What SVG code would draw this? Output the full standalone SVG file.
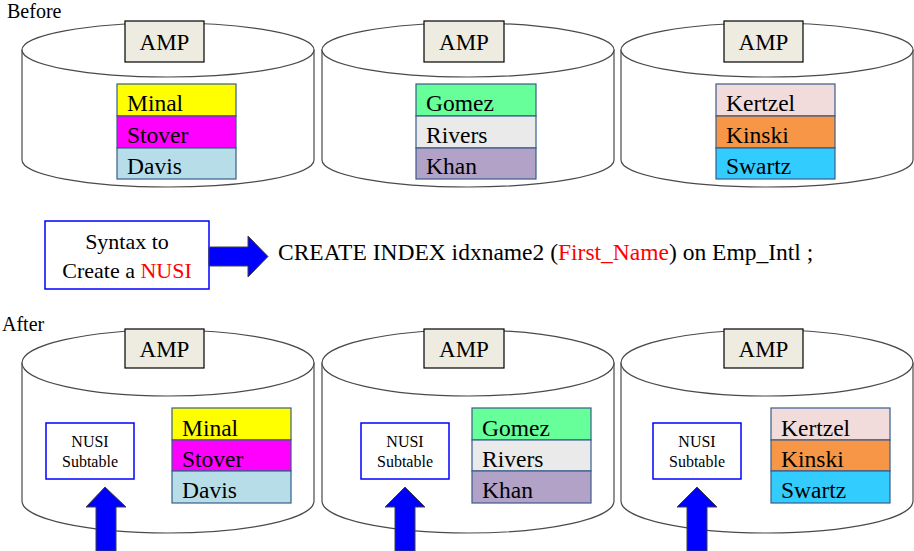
<svg xmlns="http://www.w3.org/2000/svg" width="914" height="551" viewBox="0 0 914 551">
<style>
text{font-family:"Liberation Serif","Times New Roman",serif;fill:#000}
.cyl{fill:#fff;stroke:#4a4a4a;stroke-width:1.2}
.amp{fill:#EEECE1;stroke:#000;stroke-width:1.2}
.ampt{font-size:23px;text-anchor:middle}
.cell{stroke:#385D8A;stroke-width:1.2}
.nm{font-size:23.5px}
.nusi{fill:#fff;stroke:#0000FF;stroke-width:1.5}
.nusit{font-size:16px;text-anchor:middle}
.barrow{fill:#0000FF;stroke:#404040;stroke-width:1}
.lbl{font-size:20px}
</style>
<text class="lbl" x="7" y="18">Before</text>
<text class="lbl" x="2" y="331">After</text>

<g id="amp1-before">
<path class="cyl" d="M22,50 L22,160 A146,27 0 0 0 314,160 L314,50 Z"/>
<ellipse class="cyl" cx="168" cy="50" rx="146" ry="27"/>
<rect class="amp" x="125" y="21" width="79" height="41"/>
<text class="ampt" x="164.5" y="49.5">AMP</text>
<rect class="cell" x="117" y="84" width="119" height="32" fill="#FFFF00"/>
<rect class="cell" x="117" y="116" width="119" height="32" fill="#FF00FF"/>
<rect class="cell" x="117" y="148" width="119" height="31" fill="#B7DEE8"/>
<text class="nm" x="127" y="111">Minal</text>
<text class="nm" x="127" y="143">Stover</text>
<text class="nm" x="127" y="174">Davis</text>
</g>
<g id="amp2-before">
<path class="cyl" d="M322,50 L322,160 A146,27 0 0 0 614,160 L614,50 Z"/>
<ellipse class="cyl" cx="468" cy="50" rx="146" ry="27"/>
<rect class="amp" x="424" y="21" width="80" height="41"/>
<text class="ampt" x="464" y="49.5">AMP</text>
<rect class="cell" x="416" y="84" width="120" height="32" fill="#66FF99"/>
<rect class="cell" x="416" y="116" width="120" height="32" fill="#EAEAEA"/>
<rect class="cell" x="416" y="148" width="120" height="31" fill="#B3A2C7"/>
<text class="nm" x="426" y="111">Gomez</text>
<text class="nm" x="426" y="143">Rivers</text>
<text class="nm" x="426" y="174">Khan</text>
</g>
<g id="amp3-before">
<path class="cyl" d="M621,50 L621,160 A146,27 0 0 0 913,160 L913,50 Z"/>
<ellipse class="cyl" cx="767" cy="50" rx="146" ry="27"/>
<rect class="amp" x="724" y="21" width="79" height="41"/>
<text class="ampt" x="763.5" y="49.5">AMP</text>
<rect class="cell" x="716" y="84" width="119" height="32" fill="#F2DCDB"/>
<rect class="cell" x="716" y="116" width="119" height="32" fill="#F79646"/>
<rect class="cell" x="716" y="148" width="119" height="31" fill="#33CCFF"/>
<text class="nm" x="726" y="111">Kertzel</text>
<text class="nm" x="726" y="143">Kinski</text>
<text class="nm" x="726" y="174">Swartz</text>
</g>

<g id="syntax">
<rect x="45" y="221" width="164" height="68" fill="#fff" stroke="#0000FF" stroke-width="1.5"/>
<text x="127" y="249" font-size="22" text-anchor="middle">Syntax to</text>
<text x="127" y="278" font-size="22" text-anchor="middle">Create a <tspan fill="#FF0000">NUSI</tspan></text>
</g>
<g id="sql">
<text x="278" y="260" font-size="23.5">CREATE INDEX idxname2 (<tspan fill="#FF0000">First_Name</tspan>) on Emp_Intl ;</text>
</g>

<g id="amp1-after">
<path class="cyl" d="M22,363 L22,501 A146,32 0 0 0 314,501 L314,363 Z"/>
<ellipse class="cyl" cx="168" cy="363" rx="146" ry="33"/>
<rect class="amp" x="125" y="329" width="79" height="39"/>
<text class="ampt" x="164.5" y="357">AMP</text>
<rect class="nusi" x="46" y="423" width="88" height="56"/>
<text class="nusit" x="90" y="447">NUSI</text>
<text class="nusit" x="90" y="467">Subtable</text>
<rect class="cell" x="172" y="408" width="119" height="32" fill="#FFFF00"/>
<rect class="cell" x="172" y="440" width="119" height="31" fill="#FF00FF"/>
<rect class="cell" x="172" y="471" width="119" height="32" fill="#B7DEE8"/>
<text class="nm" x="182" y="436">Minal</text>
<text class="nm" x="182" y="467">Stover</text>
<text class="nm" x="182" y="498">Davis</text>
</g>
<g id="amp2-after">
<path class="cyl" d="M322,363 L322,501 A146,32 0 0 0 614,501 L614,363 Z"/>
<ellipse class="cyl" cx="468" cy="363" rx="146" ry="33"/>
<rect class="amp" x="424" y="329" width="80" height="39"/>
<text class="ampt" x="464" y="357">AMP</text>
<rect class="nusi" x="361" y="423" width="88" height="56"/>
<text class="nusit" x="405" y="447">NUSI</text>
<text class="nusit" x="405" y="467">Subtable</text>
<rect class="cell" x="472" y="408" width="119" height="32" fill="#66FF99"/>
<rect class="cell" x="472" y="440" width="119" height="31" fill="#EAEAEA"/>
<rect class="cell" x="472" y="471" width="119" height="32" fill="#B3A2C7"/>
<text class="nm" x="482" y="436">Gomez</text>
<text class="nm" x="482" y="467">Rivers</text>
<text class="nm" x="482" y="498">Khan</text>
</g>
<g id="amp3-after">
<path class="cyl" d="M621,363 L621,501 A146,32 0 0 0 913,501 L913,363 Z"/>
<ellipse class="cyl" cx="767" cy="363" rx="146" ry="33"/>
<rect class="amp" x="724" y="329" width="79" height="39"/>
<text class="ampt" x="763.5" y="357">AMP</text>
<rect class="nusi" x="653" y="423" width="88" height="56"/>
<text class="nusit" x="697" y="447">NUSI</text>
<text class="nusit" x="697" y="467">Subtable</text>
<rect class="cell" x="771" y="408" width="119" height="32" fill="#F2DCDB"/>
<rect class="cell" x="771" y="440" width="119" height="31" fill="#F79646"/>
<rect class="cell" x="771" y="471" width="119" height="32" fill="#33CCFF"/>
<text class="nm" x="781" y="436">Kertzel</text>
<text class="nm" x="781" y="467">Kinski</text>
<text class="nm" x="781" y="498">Swartz</text>
</g>
<g id="connectors">
<polygon class="barrow" points="209,247 248,247 248,236 268,256.5 248,277 248,266 209,266"/>
<polygon class="barrow" points="96,551 96,507 86,507 105,487 126,507 116,507 116,551"/>
<polygon class="barrow" points="395,551 395,507 385,507 405,487 425,507 415,507 415,551"/>
<polygon class="barrow" points="687,551 687,507 677,507 697,487 717,507 707,507 707,551"/>
</g>
</svg>
